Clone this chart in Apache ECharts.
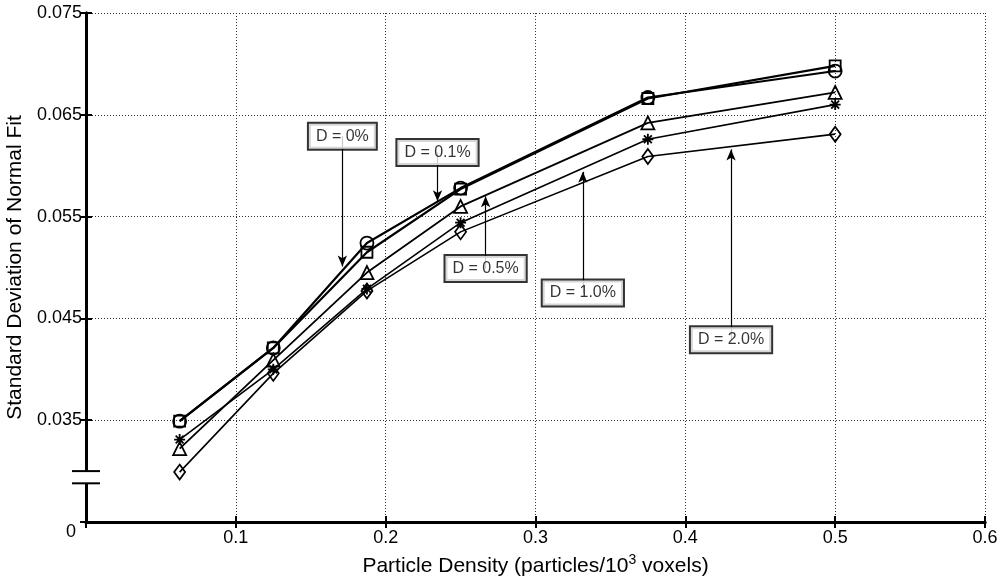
<!DOCTYPE html>
<html>
<head>
<meta charset="utf-8">
<script src="https://cdn.jsdelivr.net/npm/echarts@6/dist/echarts.min.js"></script>
<style>html,body{margin:0;padding:0;background:#fff}#c{width:1000px;height:582px}</style>
</head>
<body>
<div id="c"></div>
<script>
// ---- data ----
const xValues = [0.0625, 0.125, 0.1875, 0.25, 0.375, 0.5];
const seriesNames = ['D = 0%', 'D = 0.1%', 'D = 0.5%', 'D = 1.0%', 'D = 2.0%'];
const d00 = [0.0349, 0.0421, 0.0515, 0.0577, 0.0666, 0.0698];
const d01 = [0.0349, 0.0421, 0.0524, 0.0578, 0.0667, 0.0693];
const d05 = [0.0322, 0.0409, 0.0495, 0.0560, 0.0642, 0.0672];
const d10 = [0.0331, 0.0400, 0.0479, 0.0544, 0.0626, 0.0660];
const d20 = [0.0299, 0.0396, 0.0477, 0.0535, 0.0609, 0.0631];
const yTickLabels = ['0', '0.035', '0.045', '0.055', '0.065', '0.075'];
// annotation: arrow x, arrow tip value, label box centre value
const noteX   = [0.1711, 0.2346, 0.2667, 0.3316, 0.4305];
const noteTip = [0.0501, 0.0565, 0.0570, 0.0594, 0.0616];
const noteBox = [0.0629, 0.0613, 0.0499, 0.0475, 0.0429];

// broken y axis: bottom label "0" stands where 0.025 would be
const yBase = 0.025, yStep = 0.01;
const toAxis = v => (v - yBase) / yStep;

const starPath = 'path://M0,-6L0,6M-6,0L6,0M-4.3,-4.3L4.3,4.3M-4.3,4.3L4.3,-4.3';
const symbols = ['rect', 'circle', 'triangle', starPath, 'diamond'];
const sizes = [11, 13, 13, 11, [11, 15]];
const widths = [2.2, 2.2, 1.8, 1.6, 1.6];
const allData = [d00, d01, d05, d10, d20];

const font = 'Liberation Sans, Arial, sans-serif';
const chart = echarts.init(document.getElementById('c'));

const series = allData.map((arr, i) => ({
  name: seriesNames[i],
  type: 'line',
  data: arr.map((v, k) => [xValues[k], toAxis(v)]),
  symbol: symbols[i],
  symbolSize: sizes[i],
  showAllSymbol: true,
  lineStyle: { color: '#000', width: widths[i] },
  itemStyle: { color: i === 3 ? '#000' : 'rgba(255,255,255,0)', borderColor: '#000', borderWidth: 1.8 },
  z: 5 + i,
  animation: false
}));

series.push({
  name: 'arrows',
  type: 'scatter',
  data: [],
  z: 12,
  silent: true,
  markLine: {
    silent: true,
    animation: false,
    symbol: ['none', 'arrow'],
    symbolSize: [7, 11],
    label: { show: false },
    lineStyle: { color: '#000', width: 1.2, type: 'solid' },
    data: noteX.map((x, i) => [
      { coord: [x, toAxis(noteBox[i])] },
      { coord: [x, toAxis(noteTip[i])] }
    ])
  }
});

series.push({
  name: 'labels',
  type: 'scatter',
  z: 20,
  silent: true,
  symbolSize: 1,
  itemStyle: { color: 'rgba(0,0,0,0)' },
  data: noteX.map((x, i) => ({ value: [x, toAxis(noteBox[i])], name: seriesNames[i] })),
  label: {
    show: true,
    position: 'inside',
    formatter: p => p.name,
    color: '#000',
    fontFamily: font,
    fontSize: 16,
    backgroundColor: '#fff',
    borderColor: '#000',
    borderWidth: 2,
    padding: [5, 7, 4, 7]
  },
  animation: false
});

const gridLine = { show: true, lineStyle: { color: '#333', width: 1, type: [1, 2] } };

chart.setOption({
  animation: false,
  backgroundColor: '#fff',
  grid: { left: 86, right: 15, top: 13, bottom: 60, containLabel: false, outerBoundsMode: 'none' },
  xAxis: [{
    type: 'value', min: 0, max: 0.6, interval: 0.1,
    axisLine: { show: true, lineStyle: { color: '#000', width: 3 } },
    axisTick: { show: true, inside: true, length: 6, lineStyle: { color: '#000', width: 2 } },
    axisLabel: { color: '#000', fontFamily: font, fontSize: 18, margin: 7,
      formatter: v => (v === 0 ? '' : String(+v.toFixed(1))) },
    splitLine: gridLine,
    name: '{a|Particle Density (particles/10}{s|3}{a| voxels)}',
    nameLocation: 'middle',
    nameGap: 31,
    nameTextStyle: { rich: {
      a: { fontFamily: font, fontSize: 21, color: '#000', verticalAlign: 'bottom' },
      s: { fontFamily: font, fontSize: 14, color: '#000', verticalAlign: 'top', padding: [0, 0, 10, 0] }
    } }
  }, {
    type: 'value', min: 0, max: 0.6, interval: 0.1, position: 'top',
    axisLine: { show: true, lineStyle: { color: '#000', width: 3 } },
    axisTick: { show: true, inside: true, length: 6, lineStyle: { color: '#000', width: 2 } },
    axisLabel: { show: false }, splitLine: { show: false }
  }],
  yAxis: [{
    type: 'value', min: 0, max: 5, interval: 1,
    axisLine: { show: true, lineStyle: { color: '#000', width: 3 } },
    axisTick: { show: true, inside: true, length: 6, lineStyle: { color: '#000', width: 2 } },
    axisLabel: { color: '#000', fontFamily: font, fontSize: 18, margin: 4,
      formatter: v => (v === 0 ? '{z|' + yTickLabels[0] + '}' : yTickLabels[Math.round(v)]),
      rich: { z: { fontFamily: font, fontSize: 18, color: '#000', padding: [20, 6, 0, 0] } } },
    splitLine: gridLine,
    name: 'Standard Deviation of Normal Fit',
    nameLocation: 'middle',
    nameGap: 57,
    nameTextStyle: { fontFamily: font, fontSize: 21, color: '#000' }
  }, {
    type: 'value', min: 0, max: 5, interval: 1, position: 'right',
    axisLine: { show: true, lineStyle: { color: '#000', width: 3 } },
    axisTick: { show: true, inside: true, length: 6, lineStyle: { color: '#000', width: 2 } },
    axisLabel: { show: false }, splitLine: { show: false }
  }],
  series: series
});

// axis-break mark on the left axis
const ax = chart.convertToPixel({ xAxisIndex: 0 }, 0);
const yLo = chart.convertToPixel({ yAxisIndex: 0 }, 0.38);
const yHi = chart.convertToPixel({ yAxisIndex: 0 }, 0.50);
chart.setOption({
  graphic: [
    { type: 'rect', shape: { x: ax - 3, y: yHi, width: 6, height: yLo - yHi }, style: { fill: '#fff' }, z: 100 },
    { type: 'line', shape: { x1: ax - 14, y1: yHi, x2: ax + 14, y2: yHi }, style: { stroke: '#000', lineWidth: 2 }, z: 101 },
    { type: 'line', shape: { x1: ax - 14, y1: yLo, x2: ax + 14, y2: yLo }, style: { stroke: '#000', lineWidth: 2 }, z: 101 }
  ]
});
</script>
</body>
</html>
